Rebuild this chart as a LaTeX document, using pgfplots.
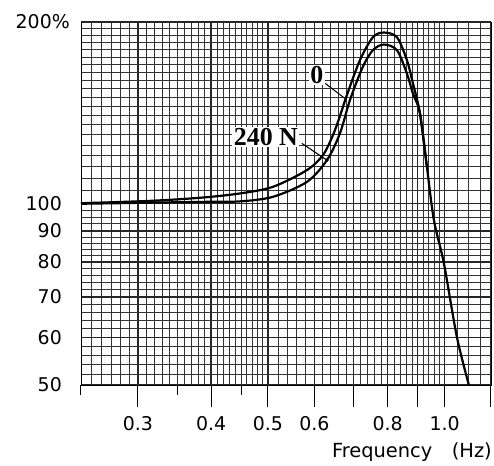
\documentclass[border=0pt]{standalone}
\usepackage{pgfplots}
\pgfplotsset{compat=1.18}
\usepackage{fontspec}
\setmainfont{DejaVu Sans}
\newfontfamily\tms{Liberation Serif}

\begin{document}
\begin{tikzpicture}
\begin{axis}[
  scale only axis,
  width=410bp, height=363bp,
  xmode=log, ymode=log,
  xmin=0.24, xmax=1.2, ymin=50, ymax=200,
  axis line style={line width=0.8bp},
  xtick={0.3,0.4,0.5,0.6,0.7,0.8,0.9,1.0,1.2},
  xticklabels={0.3,0.4,0.5,0.6,,0.8,,1.0,},
  extra x ticks={0.24,0.35,0.45},
  extra x tick labels={,,},
  extra x tick style={grid=none, major tick length=10bp},
  minor xtick={0.25,0.26,0.27,0.28,0.29,0.31,0.32,0.33,0.34,0.35,0.36,0.37,0.38,0.39,
    0.41,0.42,0.43,0.44,0.45,0.46,0.47,0.48,0.49,0.52,0.54,0.56,0.58,
    0.62,0.64,0.66,0.68,0.72,0.74,0.76,0.78,0.82,0.84,0.86,0.88,
    0.92,0.94,0.96,0.98,1.05,1.1,1.15},
  ytick={50,60,70,80,90,100},
  yticklabels={50,60,70,80,90,100},
  extra y ticks={200},
  extra y tick labels={200\%},
  extra y tick style={yticklabel style={xshift=8bp}},
  minor ytick={52,54,56,58,62,64,66,68,72,74,76,78,82,84,86,88,92.5,95,97.5,
    105,110,115,120,125,130,135,140,145,150,155,160,165,170,175,180,185,190,195},
  tick align=outside,
  xtick pos=left, ytick pos=left,
  major tick length=22bp,
  minor tick length=0pt,
  ytick style={draw=none},
  grid=both,
  major grid style={black!85, line width=1.4bp},
  minor grid style={black!80, line width=0.8bp},
  tick style={black, line width=1bp},
  ticklabel style={font=\fontsize{19}{19}\selectfont},
  /pgf/number format/assume math mode=true,
  xticklabel style={anchor=base, inner sep=0pt, yshift=-24bp},
  yticklabel style={anchor=east, inner sep=0pt, xshift=3bp},
]
\coordinate (O) at (rel axis cs:0,0);
\coordinate (SE) at (rel axis cs:1,0);

% upper curve, 0 N
\addplot[black, line width=2.2bp, smooth] coordinates {
  (0.240,100.1) (0.3147,101.0) (0.3828,102.2) (0.4479,103.9) (0.5103,106.6)
  (0.5827,113.6) (0.6205,120.3) (0.6453,129.8) (0.6632,139.6) (0.6817,151.3)
  (0.7174,172.9) (0.7549,188.7) (0.7882,192.1) (0.8295,188.7) (0.8626,172.9)
  (0.8832,158.3) (0.9078,141.2) (0.9330,115.1) (0.9590,93.9) (0.9974,79.6)
  (1.0495,60.1) (1.1002,50.0)
};
% lower curve, 240 N
\addplot[black, line width=2.2bp, smooth] coordinates {
  (0.240,99.9) (0.3828,100.6) (0.4479,100.8) (0.5103,102.6) (0.5827,108.6)
  (0.6303,118.0) (0.6632,130.7) (0.6898,148.4) (0.7256,168.5) (0.7549,179.6)
  (0.7882,183.5) (0.8295,179.6) (0.8626,164.3) (0.8832,152.2) (0.9078,141.2)
  (0.9330,115.1)
};
\addplot[only marks, mark=*, mark size=1.6bp, black] coordinates {(0.6303,118.0)};

\draw[line width=1bp] (axis cs:0.626,158.2) -- (axis cs:0.676,149.4);
\draw[line width=1bp] (axis cs:0.571,125.8) -- (axis cs:0.6303,118.0);
\node[fill=white, inner sep=1.5bp, font=\tms\bfseries\fontsize{26}{26}\selectfont]
  at (axis cs:0.606,163.2) {0};
\node[fill=white, inner sep=1.5bp, font=\tms\bfseries\fontsize{26}{26}\selectfont]
  at (axis cs:0.496,128.8) {240 N};
\end{axis}
\node[anchor=base east, inner sep=0pt, font=\fontsize{19.5}{19.5}\selectfont]
  at ([shift={(1bp,-72bp)}]SE) {Frequency\hspace{1em}(Hz)};
\pgfresetboundingbox
\path[use as bounding box] ([shift={(-81bp,-81bp)}]O) rectangle ([shift={(413bp,385bp)}]O);
\end{tikzpicture}
\end{document}
